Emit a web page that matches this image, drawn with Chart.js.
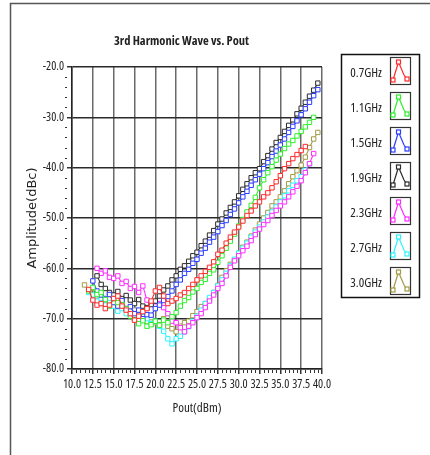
<!DOCTYPE html>
<html>
<head>
<meta charset="utf-8">
<title>3rd Harmonic Wave vs. Pout</title>
<script src="https://cdn.jsdelivr.net/npm/chart.js@4.4.1/dist/chart.umd.min.js"></script>
<style>
  html, body { margin: 0; padding: 0; background: #fff; }
  #wrap { width: 430px; height: 455px; }
</style>
</head>
<body>
<div id="wrap"><canvas id="harmonicChart" width="430" height="455"></canvas></div>
<script>
// Pout sweep (dBm), shared by all curves; null = no sample at that power
const pout = [11.5, 12, 12.5, 13, 13.5, 14, 14.5, 15, 15.5, 16, 16.5, 17, 17.5, 18, 18.5, 19, 19.5,
  20, 20.5, 21, 21.5, 22, 22.5, 23, 23.5, 24, 24.5, 25, 25.5, 26, 26.5, 27, 27.5, 28, 28.5, 29, 29.5,
  30, 30.5, 31, 31.5, 32, 32.5, 33, 33.5, 34, 34.5, 35, 35.5, 36, 36.5, 37, 37.5, 38, 38.5, 39, 39.5];

// 3rd harmonic amplitude (dBc)
const amp07 = [null, -64.2, -66.3, -67.3, -67.0, -68.0, -67.3, -66.0, -65.5, -67.5, -68.3, -69.0, -70.3, -69.5, -68.6, -68.0, -66.5,
  -64.5, -63.8, -65.5, -67.0, -66.5, -66.0, -65.3, -64.8, -64.0, -63.2, -62.3, -61.5, -60.6, -59.8, -58.7, -57.2, -56.4, -55.0, -53.8, -52.8,
  -51.8, -50.6, -49.5, -48.6, -47.6, -46.8, -45.8, -45.0, -44.0, -42.8, -41.6, -40.2, -39.2, -38.2, -37.4, -36.6, -35.8, null, null, null];
const amp11 = [null, -64.5, -63.8, -65.2, -64.8, -66.2, -67.5, -66.0, -66.8, -67.2, -68.0, -69.5, -70.2, -71.0, -70.4, -71.5, -71.2,
  -70.5, -71.3, -70.3, -70.8, -69.6, -68.8, -67.5, -66.4, -65.8, -64.7, -64.0, -62.8, -62.2, -61.0, -60.3, -58.8, -57.5, -56.0, -54.6, -53.2,
  -51.6, -50.3, -48.8, -47.5, -45.9, -44.0, -42.4, -41.0, -39.8, -38.5, -37.3, -36.2, -35.3, -34.6, -33.7, -32.8, -31.9, -31.0, -30.0, null];
const amp15 = [null, null, -62.5, -64.5, -65.3, -66.0, -65.2, -66.8, -67.5, -66.4, -68.0, -67.6, -69.0, -68.3, -70.0, -69.2, -69.3,
  -68.0, -67.3, -66.4, -65.6, -64.5, -63.2, -62.3, -61.0, -60.2, -59.0, -58.2, -57.0, -56.0, -54.8, -53.8, -52.7, -51.5, -50.5, -49.3, -48.2,
  -47.0, -45.8, -44.7, -43.5, -42.4, -41.3, -40.2, -39.0, -37.8, -36.7, -35.5, -34.3, -33.0, -31.8, -30.7, -29.5, -28.3, -27.0, -25.7, -24.5];
const amp19 = [null, null, null, -61.5, -63.2, -64.0, -64.8, -65.3, -64.6, -66.0, -65.4, -66.3, -67.0, -66.2, -67.5, -67.8, -67.2,
  -66.5, -65.5, -64.3, -63.5, -62.3, -61.5, -60.2, -59.5, -58.6, -57.5, -56.8, -55.5, -54.6, -53.4, -52.5, -51.2, -50.2, -49.0, -47.9, -46.8,
  -45.6, -44.3, -43.2, -42.0, -41.0, -40.2, -38.8, -37.6, -36.3, -35.0, -34.0, -32.8, -31.6, -30.5, -29.3, -28.2, -27.0, -25.8, -24.6, -23.2];
const amp23 = [null, null, null, -60.0, -61.0, -60.5, -61.8, -62.0, -61.5, -63.0, -62.6, -64.0, -63.6, -64.8, -63.5, -66.3, -66.8,
  -67.5, -67.0, -67.8, -69.0, -70.5, -70.8, -71.8, -72.6, -71.5, -70.8, -69.8, -69.0, -67.8, -66.5, -65.3, -64.0, -63.0, -61.5, -59.8, -58.5,
  -57.5, -56.5, -55.6, -54.5, -53.3, -52.2, -51.3, -50.5, -49.5, -48.5, -47.6, -46.8, -45.8, -44.8, -43.7, -42.6, -41.0, -39.2, -37.2, null];
const amp27 = [null, -64.8, -65.3, -66.5, -66.0, -67.3, -66.8, -67.5, -68.5, -68.0, -69.0, -68.5, -69.5, -70.3, -69.6, -70.0, -71.0,
  -70.5, -71.5, -72.5, -74.0, -75.0, -74.0, -73.5, -72.6, -71.6, -70.5, -69.5, -68.3, -67.0, -65.8, -64.8, -63.5, -62.3, -61.0, -59.5, -58.2,
  -57.0, -56.0, -55.0, -53.8, -52.8, -51.8, -50.8, -49.8, -48.8, -47.8, -46.8, -45.6, -44.6, -43.5, -42.6, -41.8, -40.5, -39.2, null, null];
const amp30 = [-63.3, -64.5, -64.0, -65.5, -65.0, -66.3, -66.0, -66.8, -67.3, -67.0, -68.0, -68.5, -68.3, -69.2, -70.0, -70.6, -69.8,
  -70.8, -71.2, -70.0, -71.5, -72.0, -72.6, -71.5, -70.8, -70.5, -69.4, -68.6, -67.6, -67.0, -66.2, -64.8, -63.4, -61.8, -60.5, -59.2, -58.3,
  -57.0, -55.8, -54.8, -53.6, -52.4, -51.2, -50.0, -48.9, -47.6, -46.8, -45.8, -44.6, -43.2, -41.8, -40.6, -39.5, -37.9, -36.0, -34.3, -33.0];

const seriesNames = ['0.7GHz', '1.1GHz', '1.5GHz', '1.9GHz', '2.3GHz', '2.7GHz', '3.0GHz'];
const seriesColors = ['#ff2a2a', '#2cf02c', '#2a3cff', '#2a2a2a', '#ff2cff', '#2cf4ff', '#a39a45'];

const xTicks = [10, 12.5, 15, 17.5, 20, 22.5, 25, 27.5, 30, 32.5, 35, 37.5, 40];
const yTicks = [-80, -70, -60, -50, -40, -30, -20];

// 'condensed' goes into the weight slot so Chart.js puts it in the font shorthand
const narrowFamily = "'Open Sans', sans-serif";
const ink = '#222';

function toPoints(values) {
    const pts = [];
    values.forEach((v, i) => {
        if (v !== null) pts.push({x: pout[i], y: v});
    });
    return pts;
}

const seriesValues = [amp07, amp11, amp15, amp19, amp23, amp27, amp30];

const datasets = seriesValues.map((values, i) => ({
    label: seriesNames[i],
    data: toPoints(values),
    borderColor: seriesColors[i],
    borderWidth: 1.1,
    pointStyle: 'rect',
    pointRadius: 3.1,
    pointBorderWidth: 1,
    pointBorderColor: seriesColors[i],
    pointBackgroundColor: '#fff',
    tension: 0
}));

// frame, title, minor ticks and the boxed legend
const decorPlugin = {
    id: 'decor',
    beforeDraw(chart) {
        const ctx = chart.ctx;
        ctx.save();
        ctx.fillStyle = '#fff';
        ctx.fillRect(0, 0, chart.width, chart.height);
        ctx.strokeStyle = '#555';
        ctx.lineWidth = 1.5;
        ctx.beginPath();
        ctx.moveTo(10.5, chart.height);
        ctx.lineTo(10.5, 3.5);
        ctx.lineTo(chart.width, 3.5);
        ctx.stroke();
        ctx.restore();
    },
    afterDraw(chart) {
        const ctx = chart.ctx;
        const xs = chart.scales.x;
        const ys = chart.scales.y;
        const area = chart.chartArea;
        ctx.save();

        // title
        ctx.fillStyle = ink;
        ctx.font = 'bold condensed 12.5px ' + narrowFamily;
        ctx.textAlign = 'center';
        ctx.textBaseline = 'middle';
        ctx.fillText('3rd Harmonic Wave vs. Pout', 181.5, 41.5);

        // minor ticks
        ctx.strokeStyle = '#333';
        ctx.lineWidth = 1;
        ctx.beginPath();
        for (let v = -80; v <= -20; v += 2) {
            if (v % 10 === 0) continue;
            const py = Math.round(ys.getPixelForValue(v)) + 0.5;
            ctx.moveTo(area.left - 7, py);
            ctx.lineTo(area.left - 5, py);
        }
        for (let v = 10; v <= 40; v += 0.5) {
            if (xTicks.includes(v)) continue;
            const px = Math.round(xs.getPixelForValue(v)) + 0.5;
            ctx.moveTo(px, area.bottom + 1);
            ctx.lineTo(px, area.bottom + 4);
        }
        ctx.stroke();

        // legend box
        ctx.strokeStyle = '#111';
        ctx.lineWidth = 1.5;
        ctx.strokeRect(341.5, 54.5, 78, 243);
        ctx.font = 'condensed 13px ' + narrowFamily;
        ctx.textAlign = 'right';
        chart.data.datasets.forEach((ds, i) => {
            const cy = 73 + i * 35;
            ctx.fillStyle = ink;
            ctx.fillText(ds.label, 382, cy);
            ctx.strokeStyle = '#333';
            ctx.lineWidth = 1.2;
            ctx.strokeRect(390.5, cy - 15.5, 20, 27);
            const pts = [[393, cy + 7], [398.5, cy - 11], [404, cy + 2], [407, cy + 6]];
            ctx.strokeStyle = ds.borderColor;
            ctx.lineWidth = 1.2;
            ctx.beginPath();
            pts.forEach((p, k) => (k ? ctx.lineTo(p[0], p[1]) : ctx.moveTo(p[0], p[1])));
            ctx.stroke();
            ctx.fillStyle = '#fff';
            [pts[0], pts[1], pts[3]].forEach(p => {
                ctx.fillRect(p[0] - 2, p[1] - 2, 4, 4);
                ctx.strokeRect(p[0] - 2, p[1] - 2, 4, 4);
            });
        });
        ctx.restore();
    }
};

new Chart(document.getElementById('harmonicChart'), {
    type: 'line',
    data: {datasets},
    plugins: [decorPlugin],
    options: {
        responsive: false,
        animation: false,
        devicePixelRatio: 1,
        layout: {padding: {left: 20, right: 108, top: 67, bottom: 30}},
        plugins: {
            legend: {display: false},
            tooltip: {enabled: false}
        },
        scales: {
            x: {
                type: 'linear',
                min: 10,
                max: 40,
                afterBuildTicks: scale => {
                    scale.ticks = xTicks.map(v => ({value: v}));
                },
                afterFit: scale => {
                    scale.height = 56;
                },
                ticks: {
                    color: ink,
                    font: {family: narrowFamily, weight: 'condensed', size: 12},
                    padding: 3,
                    autoSkip: false,
                    maxRotation: 0,
                    callback: v => v.toFixed(1)
                },
                grid: {
                    color: '#6a6a6a',
                    lineWidth: 1.5,
                    tickColor: '#333',
                    tickLength: 5
                },
                border: {color: '#222', width: 1.5},
                title: {
                    display: true,
                    text: 'Pout(dBm)',
                    color: ink,
                    font: {family: narrowFamily, weight: 'condensed', size: 13},
                    padding: {top: 0, bottom: 9}
                }
            },
            y: {
                type: 'linear',
                min: -80,
                max: -20,
                afterBuildTicks: scale => {
                    scale.ticks = yTicks.map(v => ({value: v}));
                },
                afterFit: scale => {
                    scale.width = 52;
                },
                ticks: {
                    color: ink,
                    font: {family: narrowFamily, weight: 'condensed', size: 12},
                    padding: 3,
                    autoSkip: false,
                    callback: v => v.toFixed(1)
                },
                grid: {
                    color: '#2a2a2a',
                    lineWidth: 1.5,
                    tickColor: '#333',
                    tickLength: 5
                },
                border: {color: '#222', width: 1.5},
                title: {
                    display: true,
                    text: 'Amplitude(dBc)',
                    color: ink,
                    font: {family: "'DejaVu Sans', sans-serif", size: 13},
                    padding: {top: 5, bottom: 0}
                }
            }
        }
    }
});
</script>
</body>
</html>
